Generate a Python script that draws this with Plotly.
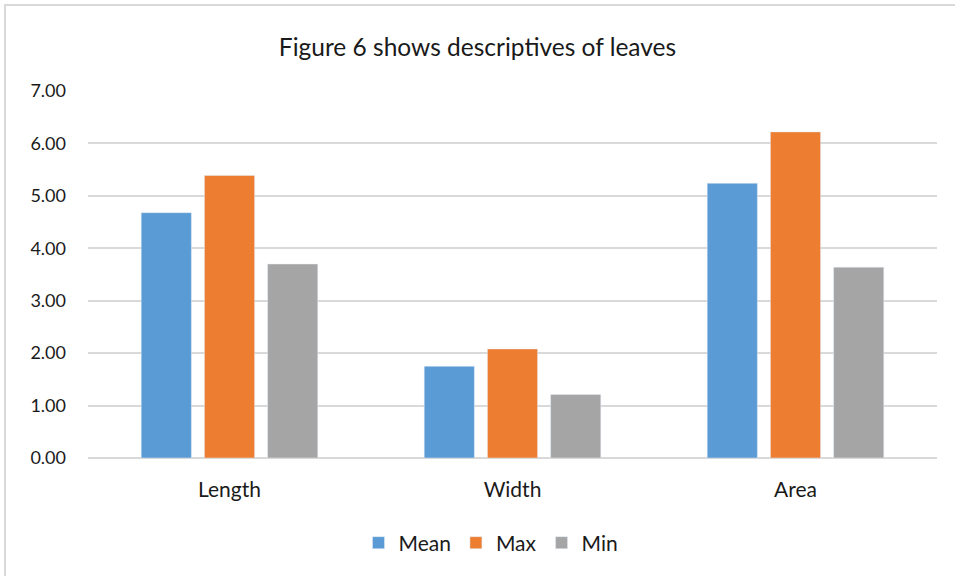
import plotly.graph_objects as go

categories = ["Length", "Width", "Area"]
mean_vals = [4.68, 1.75, 5.24]
max_vals = [5.39, 2.08, 6.22]
min_vals = [3.70, 1.21, 3.64]
tick_vals = [0, 1, 2, 3, 4, 5, 6, 7]
tick_text = ["0.00", "1.00", "2.00", "3.00", "4.00", "5.00", "6.00", "7.00"]

W, H = 955, 576
L, R, T, B = 88, 18, 91, 118
pw, ph = W - L - R, H - T - B

def px(x):
    return (x - L) / pw

def py(y):
    return (H - B - y) / ph

font_family = "Lato, 'Open Sans', sans-serif"

fig = go.Figure()
fig.add_bar(x=categories, y=mean_vals, name="Mean", marker_color="#5B9BD5")
fig.add_bar(x=categories, y=max_vals, name="Max", marker_color="#ED7D31")
fig.add_bar(x=categories, y=min_vals, name="Min", marker_color="#A5A5A5")

fig.update_layout(
    width=W, height=H,
    margin=dict(l=L, r=R, t=T, b=B, pad=0),
    paper_bgcolor="white", plot_bgcolor="white",
    barmode="group", bargap=0.33, bargroupgap=0.206,
    font=dict(family=font_family, size=18, color="#1a1a1a"),
    title=dict(text="Figure 6 shows descriptives of leaves", x=0.5, xanchor="center",
               y=1 - 47 / H, yanchor="middle",
               font=dict(family=font_family, size=24.5, color="#1a1a1a")),
    showlegend=True,
    legend=dict(orientation="h", x=px(491), xanchor="center", y=py(543), yanchor="middle",
                font=dict(size=21), itemwidth=30, traceorder="normal"),
    xaxis=dict(showgrid=False, showline=False, ticks="", tickfont=dict(size=21),
               ticklabelstandoff=17),
    yaxis=dict(range=[0, 7], tickvals=tick_vals, ticktext=tick_text, showgrid=True,
               gridcolor="#D9D9D9", gridwidth=1.5, zeroline=True, zerolinecolor="#D9D9D9",
               zerolinewidth=1.5, ticks="", tickfont=dict(size=18), ticklabelstandoff=21),
    shapes=[dict(type="rect", xref="paper", yref="paper",
                 x0=px(5), x1=px(965), y0=py(600), y1=py(5),
                 line=dict(color="#D9D9D9", width=2), fillcolor="rgba(0,0,0,0)", layer="below")],
)

fig.write_html("out.html", config={"displayModeBar": False},
               post_script="document.body.style.margin='0';")
